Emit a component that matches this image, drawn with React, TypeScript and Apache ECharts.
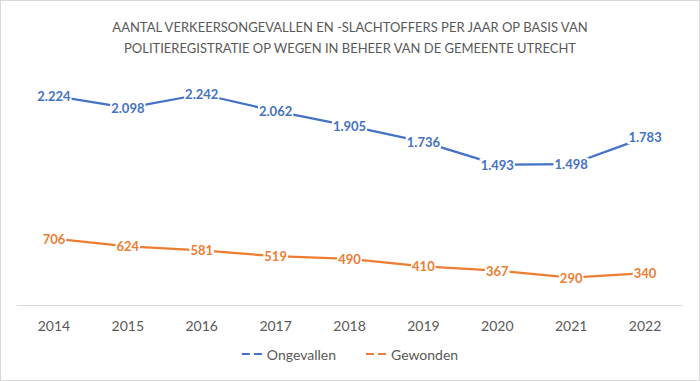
import React, { useEffect, useRef } from "react";
import * as echarts from "echarts";

const years = ["2014", "2015", "2016", "2017", "2018", "2019", "2020", "2021", "2022"];
const ongevallen = [2224, 2098, 2242, 2062, 1905, 1736, 1493, 1498, 1783];
const gewonden = [706, 624, 581, 519, 490, 410, 367, 290, 340];
const titleLines = [
  "AANTAL VERKEERSONGEVALLEN EN -SLACHTOFFERS PER JAAR OP BASIS VAN",
  "POLITIEREGISTRATIE OP WEGEN IN BEHEER VAN DE GEMEENTE UTRECHT",
];

const FONT = "Lato, 'Open Sans', sans-serif";
const fmt = (v: number) => {
  const s = String(Math.round(v));
  return s.length > 3 ? s.slice(0, s.length - 3) + "." + s.slice(-3) : s;
};
const legendIcon = "path://M0,0H8V2H0z M12,0H20V2H12z";

export default function App() {
  const ref = useRef<HTMLDivElement>(null);
  useEffect(() => {
    if (!ref.current) return;
    const chart = echarts.init(ref.current, null, { renderer: "svg" });
    const mkLabel = (color: string) => ({
      show: true,
      position: "inside" as const,
      color,
      fontWeight: "bold" as const,
      fontSize: 13,
      fontFamily: FONT,
      backgroundColor: "#ffffff",
      padding: [0, 1],
      formatter: (p: any) => fmt(p.value),
    });
    const mkSeries = (name: string, data: number[], color: string) => ({
      name,
      type: "line",
      data,
      symbol: "circle",
      symbolSize: 2,
      showSymbol: true,
      showAllSymbol: true,
      color,
      itemStyle: { color },
      lineStyle: { width: 2.25, color },
      label: mkLabel(color),
      labelLayout: { hideOverlap: false },
    });
    chart.setOption({
      animation: false,
      title: {
        text: titleLines.join("\n"),
        left: "center",
        top: 10,
        textStyle: {
          color: "#595959",
          fontSize: 13,
          fontWeight: "normal",
          fontFamily: FONT,
          lineHeight: 21,
        },
      },
      legend: {
        bottom: 14,
        left: "center",
        itemWidth: 20,
        itemHeight: 2,
        itemGap: 30,
        icon: legendIcon,
        textStyle: { color: "#595959", fontSize: 14, fontFamily: FONT },
        data: ["Ongevallen", "Gewonden"],
      },
      grid: { left: 16, right: 17, top: 69, bottom: 75 },
      xAxis: {
        type: "category",
        data: years,
        boundaryGap: true,
        axisLine: { lineStyle: { color: "#d9d9d9", width: 1 } },
        axisTick: { show: false },
        axisLabel: { color: "#595959", fontSize: 14, fontFamily: FONT, margin: 13 },
      },
      yAxis: {
        type: "value",
        min: 0,
        max: 2500,
        interval: 500,
        show: false,
        splitLine: { show: false },
      },
      series: [
        mkSeries("Ongevallen", ongevallen, "#4472C4"),
        mkSeries("Gewonden", gewonden, "#ED7D31"),
      ],
    });
    return () => chart.dispose();
  }, []);
  return (
    <div
      style={{
        position: "fixed",
        left: 0,
        top: 0,
        width: 700,
        height: 381,
        background: "#fff",
        boxSizing: "border-box",
        border: "1px solid #d9d9d9",
      }}
    >
      <div ref={ref} style={{ width: 698, height: 379 }} />
    </div>
  );
}
